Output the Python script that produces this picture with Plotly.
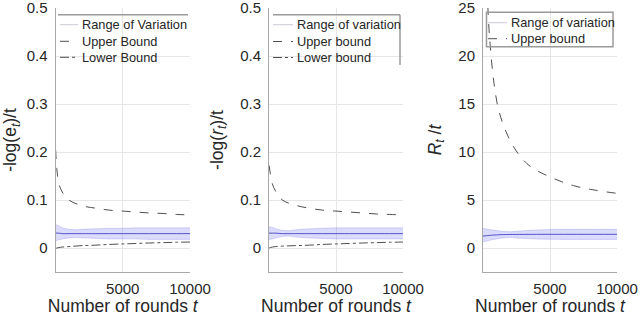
import plotly.graph_objects as go

# ---------------- data ----------------
t_band = [1, 250, 500, 1000, 1500, 2000, 3000, 4000, 5000, 6000, 7000, 8000, 9000, 10000]

# Panel 1: -log(e_t)/t
e_band_hi = [0.049, 0.046, 0.042, 0.039, 0.038, 0.039, 0.040, 0.041, 0.041, 0.042, 0.042, 0.042, 0.042, 0.042]
e_band_lo = [0.015, 0.017, 0.019, 0.021, 0.022, 0.021, 0.020, 0.019, 0.019, 0.019, 0.018, 0.018, 0.018, 0.018]
e_mid = [0.031, 0.031, 0.030, 0.030, 0.030, 0.030, 0.030, 0.030, 0.030, 0.030, 0.030, 0.030, 0.030, 0.030]

t_bound = [10, 100, 250, 500, 1000, 2000, 3000, 4000, 5000, 6000, 7000, 8000, 9000, 10000]
e_upper = [0.205, 0.165, 0.134, 0.117, 0.100, 0.088, 0.083, 0.079, 0.077, 0.075, 0.073, 0.072, 0.070, 0.069]
e_lower = [-0.001, 0.000, 0.001, 0.002, 0.003, 0.005, 0.006, 0.0075, 0.0085, 0.0095, 0.0105, 0.0112, 0.012, 0.0125]

# Panel 2: -log(r_t)/t
r_band_hi = [0.044, 0.043, 0.040, 0.037, 0.036, 0.038, 0.040, 0.041, 0.042, 0.042, 0.042, 0.042, 0.042, 0.042]
r_band_lo = [0.018, 0.019, 0.021, 0.024, 0.025, 0.023, 0.021, 0.020, 0.019, 0.019, 0.019, 0.019, 0.019, 0.019]
r_mid = [0.031, 0.031, 0.031, 0.030, 0.030, 0.030, 0.030, 0.030, 0.030, 0.030, 0.030, 0.030, 0.030, 0.030]
r_upper = [0.172, 0.155, 0.134, 0.118, 0.100, 0.089, 0.083, 0.079, 0.077, 0.075, 0.073, 0.071, 0.070, 0.069]
r_lower = [0.000, 0.001, 0.002, 0.003, 0.004, 0.005, 0.006, 0.0075, 0.0085, 0.0095, 0.0105, 0.0112, 0.012, 0.0125]

# Panel 3: R_t/t
R_band_hi = [2.05, 1.98, 1.92, 1.82, 1.74, 1.70, 1.80, 1.88, 1.93, 1.95, 1.95, 1.95, 1.95, 1.95]
R_band_lo = [0.66, 0.72, 0.80, 0.95, 1.05, 1.10, 1.00, 0.94, 0.91, 0.90, 0.90, 0.90, 0.90, 0.90]
R_mid = [1.25, 1.28, 1.32, 1.37, 1.40, 1.41, 1.42, 1.43, 1.43, 1.43, 1.43, 1.43, 1.43, 1.43]
t_R_upper = [250, 350, 450, 545, 790, 1165, 1790, 2540, 3530, 5020, 6760, 8500, 10000]
R_upper = [29.0, 25.5, 22.8, 21.0, 17.5, 14.4, 11.9, 10.0, 8.5, 7.4, 6.5, 6.0, 5.7]

x_ticks = [5000, 10000]
x_ticktext = ["5000", "10000"]
e_ticks = [0, 0.1, 0.2, 0.3, 0.4, 0.5]
R_ticks = [0, 5, 10, 15, 20, 25]

legend_labels = [
    ["Range of Variation", "Upper Bound", "Lower Bound"],
    ["Range of variation", "Upper bound", "Lower bound"],
    ["Range of variation", "Upper bound"],
]

# ---------------- style ----------------
FONT = "Liberation Sans, Arial, Helvetica, sans-serif"
TXT = "#262626"
BAND_FILL = "rgba(90,90,235,0.22)"
BAND_EDGE = "rgba(120,120,235,0.35)"
MID = "rgba(70,70,200,0.9)"
BOUND = "rgba(60,60,60,0.9)"
W, H = 640, 316

fig = go.Figure()


def add_panel(n, lo, hi, mid, t_up, up, t_low, low, labels):
    xa = "x" if n == 1 else f"x{n}"
    ya = "y" if n == 1 else f"y{n}"
    fig.add_trace(go.Scatter(x=t_band, y=lo, mode="lines", xaxis=xa, yaxis=ya,
                             line=dict(color=BAND_EDGE, width=0.8, shape="spline"),
                             showlegend=False, hoverinfo="skip"))
    fig.add_trace(go.Scatter(x=t_band, y=hi, mode="lines", xaxis=xa, yaxis=ya,
                             fill="tonexty", fillcolor=BAND_FILL,
                             line=dict(color=BAND_EDGE, width=0.8, shape="spline"),
                             name=labels[0], showlegend=False))
    fig.add_trace(go.Scatter(x=t_band, y=mid, mode="lines", xaxis=xa, yaxis=ya,
                             line=dict(color=MID, width=1, shape="spline"),
                             showlegend=False))
    fig.add_trace(go.Scatter(x=t_up, y=up, mode="lines", xaxis=xa, yaxis=ya,
                             line=dict(color=BOUND, width=1, dash="dash", shape="spline"),
                             name=labels[1], showlegend=False))
    if low is not None:
        fig.add_trace(go.Scatter(x=t_low, y=low, mode="lines", xaxis=xa, yaxis=ya,
                                 line=dict(color=BOUND, width=1, dash="dashdot", shape="spline"),
                                 name=labels[2], showlegend=False))


add_panel(1, e_band_lo, e_band_hi, e_mid, t_bound, e_upper, t_bound, e_lower, legend_labels[0])
add_panel(2, r_band_lo, r_band_hi, r_mid, t_bound, r_upper, t_bound, r_lower, legend_labels[1])
add_panel(3, R_band_lo, R_band_hi, R_mid, t_R_upper, R_upper, None, None, legend_labels[2])

ydom = [1 - 272 / H, 1 - 8 / H]
xdoms = [[55.5 / W, 190 / W], [269 / W, 403 / W], [483 / W, 617 / W]]

axis_common = dict(showgrid=True, gridcolor="#e6e6e6", gridwidth=1, zeroline=False,
                   showline=True, linecolor="#a8a8a8", linewidth=1, ticks="",
                   ticklabeloverflow="allow", automargin=False,
                   tickfont=dict(family=FONT, size=15, color=TXT))

layout = dict(width=W, height=H, margin=dict(l=0, r=0, t=0, b=0, autoexpand=False),
              paper_bgcolor="white", plot_bgcolor="white", showlegend=False,
              font=dict(family=FONT, color=TXT))

ytitles = ["-log(e<sub><i>t</i></sub>)/t",
           "-log(<i>r</i><sub><i>t</i></sub>)/t",
           "<i>R</i><sub><i>t</i></sub> /<i>t</i>"]

for i in range(3):
    xs = "xaxis" if i == 0 else f"xaxis{i+1}"
    ys = "yaxis" if i == 0 else f"yaxis{i+1}"
    anchor_y = "y" if i == 0 else f"y{i+1}"
    anchor_x = "x" if i == 0 else f"x{i+1}"
    layout[xs] = dict(axis_common, domain=xdoms[i], anchor=anchor_y, range=[0, 10000.5],
                      tickvals=x_ticks, ticktext=x_ticktext, ticklabelstandoff=3,
                      title=dict(text="Number of rounds <i>t</i>", standoff=9,
                                 font=dict(family=FONT, size=17.5, color=TXT)))
    if i < 2:
        yr, yt = [-0.05, 0.5004], e_ticks
    else:
        yr, yt = [-2.5, 25.02], R_ticks
    layout[ys] = dict(axis_common, domain=ydom, anchor=anchor_x, range=yr,
                      tickvals=yt, ticklabelstandoff=4,
                      title=dict(text=ytitles[i], standoff=12,
                                 font=dict(family=FONT, size=17.5, color=TXT)))

fig.update_layout(**layout)

# ---------------- legends drawn by hand (partial frames as in the original) ----
frame = dict(color="#9a9a9a", width=1.5)
sample_styles = [
    dict(color="rgba(170,170,190,0.6)", width=1),
    dict(color=BOUND, width=1, dash="dash"),
    dict(color=BOUND, width=1, dash="dashdot"),
]
# (sample x0, sample x1, text x, row ys) for each panel, in pixels
leg_geom = [
    (60, 78, 80, [24.7, 41.3, 57.3]),
    (273, 293, 295, [24.7, 41.5, 57.5]),
    (488, 507, 508.5, [22.7, 38.7]),
]
shapes = [
    dict(type="line", xref="paper", yref="paper", x0=58 / W, x1=188 / W,
         y0=1 - 14.7 / H, y1=1 - 14.7 / H, line=frame),
    dict(type="line", xref="paper", yref="paper", x0=273 / W, x1=400 / W,
         y0=1 - 14.7 / H, y1=1 - 14.7 / H, line=frame),
    dict(type="line", xref="paper", yref="paper", x0=400 / W, x1=400 / W,
         y0=1 - 14.7 / H, y1=1 - 65 / H, line=frame),
    dict(type="rect", xref="paper", yref="paper", x0=486.5 / W, x1=613 / W,
         y0=1 - 46.7 / H, y1=1 - 12.3 / H, line=frame),
]
annotations = []
for p, (sx0, sx1, tx, rows) in enumerate(leg_geom):
    for k, lab in enumerate(legend_labels[p]):
        yy = 1 - rows[k] / H
        shapes.append(dict(type="line", xref="paper", yref="paper",
                           x0=sx0 / W, x1=sx1 / W, y0=yy, y1=yy, line=sample_styles[k]))
        annotations.append(dict(text=lab, xref="paper", yref="paper", x=tx / W, y=yy,
                                xanchor="left", yanchor="middle", showarrow=False,
                                font=dict(family=FONT, size=12.8, color=TXT)))
fig.update_layout(shapes=shapes, annotations=annotations)

fig.write_html("out.html", config={"displayModeBar": False},
               post_script="document.body.style.margin='0px';")
